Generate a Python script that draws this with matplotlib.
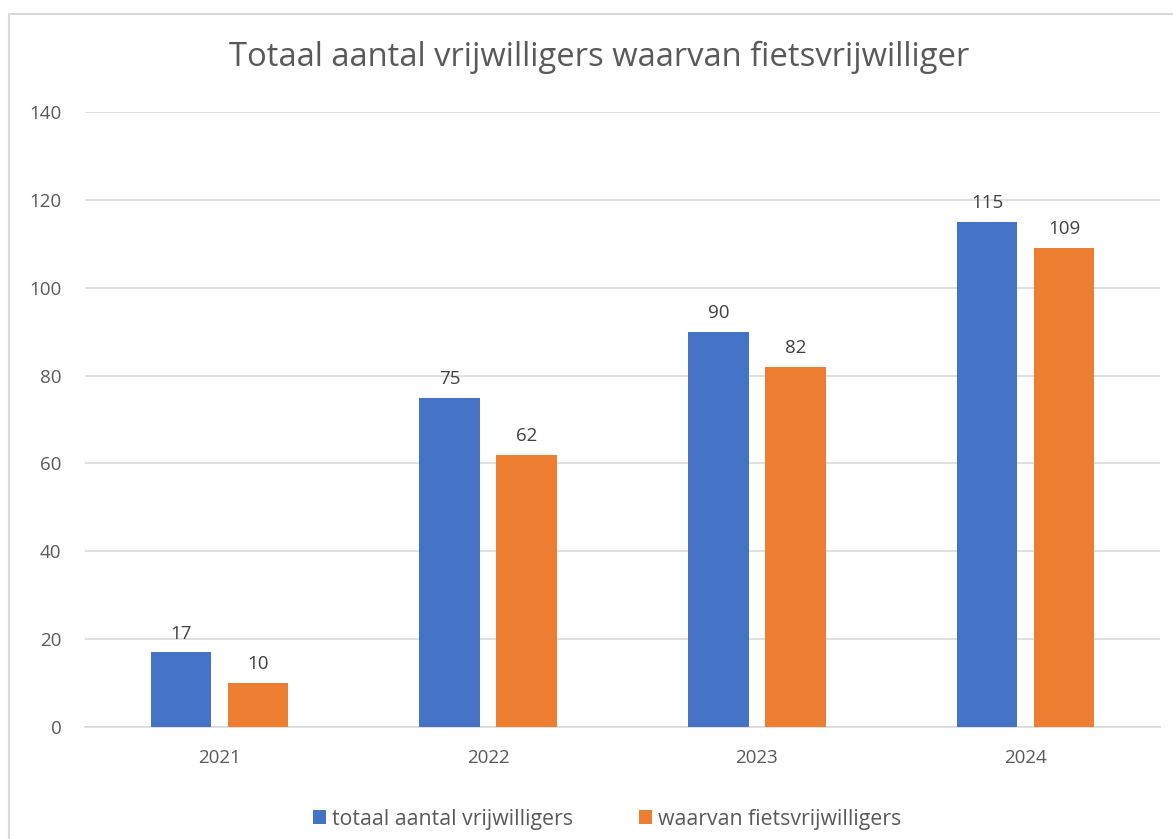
import matplotlib.pyplot as plt
from matplotlib.patches import Rectangle
import numpy as np

years = ['2021', '2022', '2023', '2024']
totaal = [17, 75, 90, 115]
fiets = [10, 62, 82, 109]
series_names = ['totaal aantal vrijwilligers', 'waarvan fietsvrijwilligers']
title = 'Totaal aantal vrijwilligers waarvan fietsvrijwilliger'

blue = '#4472C4'
orange = '#ED7D31'
txt = '#595959'

plt.rcParams['font.family'] = ['Open Sans', 'DejaVu Sans']

fig = plt.figure(figsize=(11.73, 8.39), dpi=100)
# chart border, runs off right/bottom edge like the screenshot
fig.patches.append(Rectangle((9 / 1173, -0.05), 1.2, 1 - 14 / 839 + 0.05,
                             transform=fig.transFigure, fill=False,
                             edgecolor='#d9d9d9', linewidth=1.5))

ax = fig.add_axes([85 / 1173, 1 - 727 / 839, 1075 / 1173, 615 / 839])
x = np.arange(len(years))
w = 0.225
off = 0.143
b1 = ax.bar(x - off, totaal, w, color=blue, label=series_names[0], zorder=3)
b2 = ax.bar(x + off, fiets, w, color=orange, label=series_names[1], zorder=3)

for bars in (b1, b2):
    for r in bars:
        ax.annotate(str(int(r.get_height())), (r.get_x() + r.get_width() / 2, r.get_height()),
                    xytext=(0, 7), textcoords='offset points', ha='center', va='bottom',
                    fontsize=13.5, color='#404040')

ax.set_xlim(-0.5, len(years) - 0.5)
ax.set_ylim(0, 140)
ax.set_yticks(range(0, 141, 20))
ax.set_xticks(x)
ax.set_xticklabels(years)
ax.tick_params(axis='both', length=0, labelsize=13.5, colors=txt)
ax.tick_params(axis='y', pad=17)
ax.tick_params(axis='x', pad=16)
ax.grid(axis='y', color='#d9d9d9', linewidth=1.2, zorder=0)
for s in ['top', 'right', 'left']:
    ax.spines[s].set_visible(False)
ax.spines['bottom'].set_color('#d9d9d9')
ax.spines['bottom'].set_linewidth(1.2)

fig.text(599 / 1173, 1 - 57 / 839, title, ha='center', va='center', fontsize=23.6, color=txt)

fig.legend(loc='center', bbox_to_anchor=(607 / 1173, 1 - 819 / 839), ncol=2, frameon=False,
           fontsize=15.3, labelcolor=txt, handlelength=0.6, handleheight=0.6,
           handletextpad=0.3, columnspacing=3.1, borderpad=0)

fig.savefig('out.png', dpi=100)
